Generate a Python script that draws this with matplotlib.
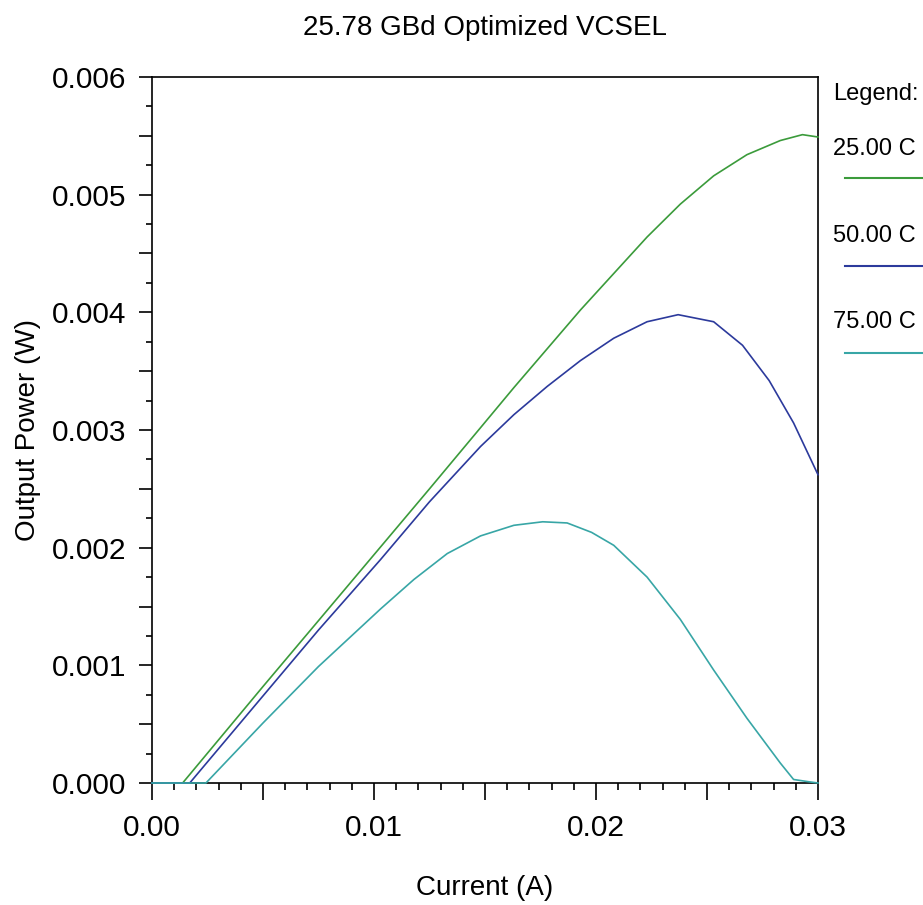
import matplotlib
matplotlib.use("Agg")
import matplotlib.pyplot as plt
from matplotlib.ticker import MultipleLocator, FuncFormatter
from matplotlib.lines import Line2D

plt.rcParams['font.family'] = ['Liberation Sans', 'DejaVu Sans']

# L-I curves at three heat-sink temperatures
cur_25 = [0.0, 0.00138, 0.005, 0.0075, 0.010, 0.0125, 0.0148, 0.0163, 0.0178, 0.0193, 0.0208,
          0.0223, 0.0238, 0.0253, 0.0268, 0.0283, 0.0293, 0.030]
pow_25 = [0.0, 0.0, 0.00082, 0.00138, 0.00194, 0.0025, 0.00302, 0.00336, 0.00369, 0.00402, 0.00433,
          0.00464, 0.00492, 0.00516, 0.00534, 0.00546, 0.00551, 0.00549]

cur_50 = [0.0, 0.0017, 0.005, 0.0075, 0.0103, 0.0125, 0.0148, 0.0163, 0.0178, 0.0193, 0.0208,
          0.0223, 0.0237, 0.0253, 0.0266, 0.0278, 0.0289, 0.030]
pow_50 = [0.0, 0.0, 0.00074, 0.0013, 0.0019, 0.00239, 0.00286, 0.00313, 0.00337, 0.00359, 0.00378,
          0.00392, 0.00398, 0.00392, 0.00372, 0.00342, 0.00306, 0.00262]

cur_75 = [0.0, 0.00243, 0.005, 0.0075, 0.0103, 0.0118, 0.0133, 0.0148, 0.0163, 0.0176, 0.0187,
          0.0198, 0.0208, 0.0223, 0.0238, 0.0253, 0.0268, 0.0283, 0.0289, 0.0296, 0.030]
pow_75 = [0.0, 0.0, 0.00051, 0.00099, 0.00148, 0.00173, 0.00195, 0.0021, 0.00219, 0.00222, 0.00221,
          0.00213, 0.00202, 0.00175, 0.00139, 0.00096, 0.00055, 0.00017, 0.00003, 0.00001, 0.0]

series = [
    ("25.00 C", cur_25, pow_25, "#3b9b3b"),
    ("50.00 C", cur_50, pow_50, "#2c3a9c"),
    ("75.00 C", cur_75, pow_75, "#38a6a6"),
]

fig = plt.figure(figsize=(9.23, 9.05), dpi=100)
ax = fig.add_axes([152 / 923, 1 - 783 / 905, 666 / 923, 706 / 905])

for name, x, y, c in series:
    ax.plot(x, y, color=c, lw=1.2, zorder=3, clip_on=False)

ax.set_xlim(0, 0.03)
ax.set_ylim(0, 0.006)

ax.xaxis.set_major_locator(MultipleLocator(0.005))
ax.xaxis.set_minor_locator(MultipleLocator(0.001))
ax.yaxis.set_major_locator(MultipleLocator(0.0005))
ax.yaxis.set_minor_locator(MultipleLocator(0.00025))

ax.xaxis.set_major_formatter(FuncFormatter(
    lambda v, p: f"{v:.2f}" if abs(round(v / 0.01) * 0.01 - v) < 1e-9 else ""))
ax.yaxis.set_major_formatter(FuncFormatter(
    lambda v, p: f"{v:.3f}" if abs(round(v / 0.001) * 0.001 - v) < 1e-9 else ""))

ax.tick_params(axis='x', which='major', direction='out', length=12, width=1.2, pad=10, labelsize=21.5)
ax.tick_params(axis='x', which='minor', direction='out', length=5, width=1.2)
ax.tick_params(axis='y', which='major', direction='out', length=9.5, width=1.2, pad=9, labelsize=21.5)
ax.tick_params(axis='y', which='minor', direction='out', length=4.5, width=1.2)
for s in ax.spines.values():
    s.set_linewidth(1.2)

ax.set_xlabel("Current (A)", fontsize=20, labelpad=24)
ax.set_ylabel("Output Power (W)", fontsize=20, labelpad=8)
fig.text(485 / 923, 1 - 35 / 905, "25.78 GBd Optimized VCSEL", fontsize=20,
         ha='center', va='baseline')

# legend drawn at the right of the plot
fig.text(833 / 923, 1 - 100 / 905, "Legend:", fontsize=17, ha='left', va='baseline')
text_y = [155, 242, 328]
line_y = [178, 266, 353]
for (name, x, y, c), ty, ly in zip(series, text_y, line_y):
    fig.text(833 / 923, 1 - ty / 905, name, fontsize=17, ha='left', va='baseline')
    fig.add_artist(Line2D([845 / 923, 1.0], [1 - ly / 905, 1 - ly / 905],
                          transform=fig.transFigure, color=c, lw=1.5))

fig.savefig("out.png", dpi=100)
